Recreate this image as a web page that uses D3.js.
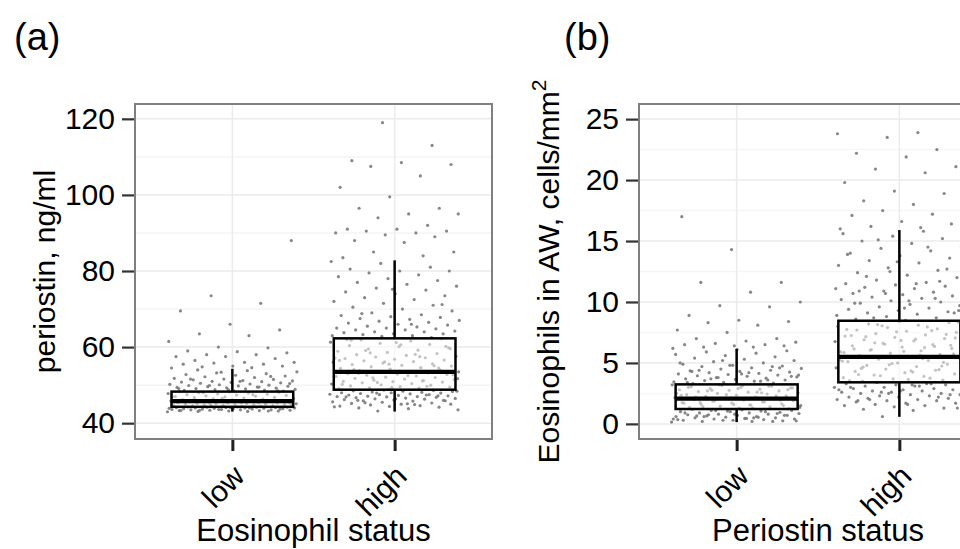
<!DOCTYPE html>
<html>
<head>
<meta charset="utf-8">
<script src="https://cdn.jsdelivr.net/npm/d3@7"></script>
<style>
  body { margin: 0; background: #fff; }
  svg { display: block; font-family: "Liberation Sans", Arial, sans-serif; }
</style>
</head>
<body>
<script>
// Canvas size
var w = 960;
var h = 549;

// Categories on both x axes
var groups = ["low", "high"];

// Panel (a): periostin (ng/ml) by eosinophil status
var periLow = [43.0,43.1,43.1,43.2,43.2,43.3,43.3,43.4,43.4,43.5,43.5,43.5,43.6,43.6,43.7,43.7,43.8,43.8,43.8,43.9,43.9,44.0,44.0,44.0,44.1,44.1,44.1,44.2,44.2,44.2,44.3,44.3,43.2,43.6,43.9,44.0,43.4,43.7,44.1,43.3,
  44.4,44.4,44.5,44.5,44.6,44.6,44.7,44.7,44.8,44.8,44.9,44.9,45.0,45.0,45.1,45.1,45.2,45.2,45.3,45.3,45.4,45.4,45.5,45.5,45.6,45.6,45.7,45.7,45.8,45.8,45.9,46.0,46.1,46.2,46.3,46.4,46.5,46.6,46.7,46.8,46.9,47.0,47.1,47.2,47.3,47.4,47.5,47.6,47.7,47.8,47.9,48.0,48.1,48.2,48.3,44.5,44.8,45.1,45.4,45.7,46.0,46.5,47.0,47.5,48.0,
  48.4,48.5,48.6,48.7,48.8,48.9,49.0,49.1,49.2,49.3,49.4,49.5,49.6,49.7,49.8,49.9,50.0,50.1,50.2,50.3,50.5,50.6,50.7,50.8,50.9,51.0,51.1,51.2,51.4,51.5,51.6,51.8,52.0,52.2,52.4,52.6,52.8,53.0,53.2,53.5,53.8,54.0,48.5,48.8,49.1,49.5,49.9,50.4,51.0,51.6,52.3,53.4,
  54.5,54.6,54.8,55.0,55.0,55.5,55.5,55.8,56.0,56.0,56.5,57.0,57.5,57.5,58.0,58.0,58.5,58.8,59.0,59.8,60.0,61.5,63.0,63.5,64.5,66.0,69.5,71.5,73.5,88.0];
var periHigh = [43.2,43.5,43.8,44.0,44.2,44.4,44.5,44.6,44.8,45.0,45.0,45.2,45.3,45.5,45.6,45.8,45.9,46.0,46.1,46.2,46.3,46.4,46.5,46.6,46.7,46.8,46.9,47.0,47.0,47.1,47.2,47.3,47.4,47.5,47.5,47.6,47.7,47.8,47.9,48.0,48.0,48.1,48.2,48.3,48.4,48.5,48.6,48.7,44.3,44.9,45.4,45.9,46.4,46.9,47.4,47.9,48.4,45.1,46.0,47.2,
  48.9,49.0,49.2,49.3,49.5,49.6,49.8,50.0,50.1,50.3,50.4,50.6,50.8,50.9,51.0,51.2,51.3,51.5,51.6,51.8,52.0,52.1,52.3,52.4,52.6,52.8,52.9,53.0,53.2,53.3,53.5,53.6,53.8,54.0,54.2,54.4,54.6,54.8,55.0,55.2,55.4,55.6,55.8,56.0,56.2,56.4,56.6,56.8,57.0,57.2,57.4,57.6,57.8,58.0,58.3,58.6,58.9,59.2,59.5,59.8,60.1,60.4,60.7,61.0,61.3,61.6,61.9,62.2,
  49.4,50.2,51.1,51.9,52.7,53.4,54.1,55.1,56.1,57.1,58.1,59.1,60.2,61.2,62.0,49.7,50.7,51.7,52.5,53.1,54.5,55.5,56.5,57.5,58.5,59.6,60.6,61.8,
  62.5,62.8,63.0,63.0,63.3,63.5,63.5,63.8,64.0,64.0,64.2,64.5,64.5,64.8,65.0,65.0,65.3,65.5,65.8,66.0,66.3,66.5,66.8,67.0,67.3,67.5,67.8,68.0,68.3,68.5,69.0,69.5,70.0,70.5,71.0,71.5,72.0,72.5,73.0,73.5,74.0,74.5,75.0,75.5,76.0,76.5,77.0,77.5,78.0,78.5,79.0,79.5,80.0,80.0,80.5,81.0,82.0,82.5,66.0,68.8,71.2,75.2,
  83.5,84.0,85.0,85.0,87.5,88.0,89.0,89.5,90.0,90.0,90.5,90.5,91.0,91.0,92.0,94.0,95.0,95.0,96.5,96.5,99.5,102.0,105.0,107.5,108.0,108.5,109.0,113.0,119.0];
// box stats: [whisker low, q1, median, q3, whisker high]
var periBox = [[43.05, 44.3, 45.8, 48.3, 54.3], [43.05, 48.8, 53.5, 62.3, 82.8]];
var periTicks = [40, 60, 80, 100, 120];
var periMinor = [50, 70, 90, 110];

// Panel (b): airway eosinophils (cells/mm2) by periostin status
var eosLow = [0.15,0.2,0.2,0.25,0.3,0.3,0.35,0.4,0.4,0.45,0.5,0.5,0.55,0.6,0.6,0.65,0.7,0.7,0.75,0.8,0.8,0.85,0.9,0.9,0.95,1.0,1.0,1.05,1.1,1.1,1.15,1.2,0.2,0.3,0.4,0.5,0.6,0.7,0.8,0.9,1.0,1.1,0.25,0.45,0.65,0.85,1.05,0.35,0.55,0.75,
  1.25,1.3,1.35,1.4,1.45,1.5,1.55,1.6,1.65,1.7,1.75,1.8,1.85,1.9,1.95,2.0,2.05,2.1,2.15,2.2,2.25,2.3,2.35,2.4,2.45,2.5,2.55,2.6,2.65,2.7,2.75,2.8,2.85,2.9,2.95,3.0,3.05,3.1,3.15,3.2,
  1.3,1.4,1.5,1.6,1.7,1.8,1.9,2.0,2.1,2.2,2.3,2.4,2.5,2.6,2.7,2.8,2.9,3.0,3.1,3.2,1.35,1.55,1.75,1.95,2.15,2.35,2.55,2.75,2.95,3.15,
  3.3,3.35,3.4,3.45,3.5,3.55,3.6,3.65,3.7,3.75,3.8,3.85,3.9,3.95,4.0,4.05,4.1,4.15,4.2,4.25,4.3,4.35,4.4,4.5,4.55,4.6,4.7,4.75,4.8,4.9,5.0,5.1,5.2,5.3,5.4,5.5,5.6,5.7,5.8,5.9,6.0,6.1,3.4,3.6,3.8,4.0,4.2,4.4,4.6,4.8,5.0,3.5,3.7,3.9,4.1,4.3,4.7,5.2,
  6.2,6.3,6.3,6.4,6.4,6.5,6.5,6.6,6.7,6.8,7.0,7.0,7.5,7.7,8.1,8.3,8.4,8.5,8.9,9.6,9.7,10.0,10.8,11.6,11.6,14.3,17.0];
var eosHigh = [0.6,1.0,1.1,1.2,1.3,1.4,1.5,1.5,1.6,1.7,1.7,1.8,1.9,1.9,2.0,2.0,2.1,2.1,2.2,2.2,2.3,2.3,2.4,2.4,2.5,2.5,2.6,2.6,2.7,2.7,2.8,2.8,2.9,2.9,3.0,3.0,3.1,3.1,3.2,3.2,3.3,3.3,3.4,1.3,1.6,1.9,2.2,2.5,2.8,3.1,2.0,2.4,2.7,3.0,3.3,2.6,2.9,3.2,
  3.5,3.6,3.7,3.8,3.9,4.0,4.1,4.2,4.3,4.4,4.5,4.6,4.7,4.8,4.9,5.0,5.1,5.2,5.3,5.4,5.5,5.6,5.7,5.8,5.9,6.0,6.1,6.2,6.3,6.4,6.5,6.6,6.7,6.8,6.9,7.0,7.1,7.2,7.3,7.4,7.5,7.6,7.7,7.8,7.9,8.0,8.1,8.2,8.3,8.4,
  3.55,3.75,3.95,4.15,4.35,4.55,4.75,4.95,5.15,5.35,5.55,5.75,5.95,6.15,6.35,6.55,6.75,6.95,7.15,7.35,7.55,7.75,7.95,8.15,8.35,3.65,4.05,4.45,4.85,5.25,5.65,6.05,6.45,6.85,7.25,7.65,8.05,3.85,4.25,4.65,5.05,5.45,5.85,6.25,6.65,7.05,
  8.5,8.6,8.7,8.8,8.9,9.0,9.1,9.2,9.3,9.4,9.5,9.6,9.7,9.8,9.9,10.0,10.1,10.2,10.3,10.4,10.5,10.6,10.7,10.8,10.9,11.0,11.1,11.2,11.3,11.4,11.5,11.6,11.8,12.0,12.2,12.4,12.6,12.8,13.0,13.2,13.4,13.6,13.8,14.0,14.2,14.4,14.6,14.8,15.0,15.2,15.4,15.6,15.8,8.7,9.1,9.5,9.9,10.3,10.7,11.1,11.5,12.1,12.7,13.3,13.9,14.5,15.1,9.3,10.1,10.9,11.7,12.5,
  16.0,16.1,16.2,16.4,16.6,17.1,17.2,17.5,17.5,18.0,18.3,18.9,19.1,19.8,20.6,20.9,21.1,21.9,22.2,22.5,23.5,23.8,23.9];
var eosBox = [[0.15, 1.22, 2.08, 3.24, 6.15], [0.58, 3.41, 5.49, 8.46, 15.9]];
var eosTicks = [0, 5, 10, 15, 20, 25];
var eosMinor = [2.5, 7.5, 12.5, 17.5, 22.5];

// Create the SVG canvas
var svg = d3.select("body")
  .append("svg")
  .attr("width", w)
  .attr("height", h);

// vertical extent of both panels
var panelTop = 104, panelBottom = 439;

drawPanel({
  left: 135, right: 492,
  domain: [35.84, 123.9],
  series: [periLow, periHigh],
  box: periBox,
  ticks: periTicks,
  minor: periMinor,
  tag: "(a)", tagX: 14,
  xTitle: "Eosinophil status",
  yTitle: "periostin, ng/ml", yTitleX: 55
});

drawPanel({
  left: 639, right: 997,
  domain: [-1.24, 26.24],
  series: [eosLow, eosHigh],
  box: eosBox,
  ticks: eosTicks,
  minor: eosMinor,
  tag: "(b)", tagX: 564,
  xTitle: "Periostin status",
  yTitle: "Eosinophils in AW, cells/mm", yTitleSup: "2", yTitleX: 559
});

function drawPanel(p) {
  var g = svg.append("g");

  // discrete x with ggplot style 0.6 padding
  var x = d3.scalePoint().domain(groups).range([p.left, p.right]).padding(0.6);
  var y = d3.scaleLinear().domain(p.domain).range([panelBottom, panelTop]);
  var step = x.step();

  // grid
  g.selectAll(".minor").data(p.minor).enter().append("line")
    .attr("x1", p.left).attr("x2", p.right)
    .attr("y1", function(d) { return y(d); }).attr("y2", function(d) { return y(d); })
    .attr("stroke", "#f5f5f5").attr("stroke-width", 1.5);
  g.selectAll(".major").data(p.ticks).enter().append("line")
    .attr("x1", p.left).attr("x2", p.right)
    .attr("y1", function(d) { return y(d); }).attr("y2", function(d) { return y(d); })
    .attr("stroke", "#ebebeb").attr("stroke-width", 1.5);
  g.selectAll(".vmajor").data(groups).enter().append("line")
    .attr("x1", function(d) { return x(d); }).attr("x2", function(d) { return x(d); })
    .attr("y1", panelTop).attr("y2", panelBottom)
    .attr("stroke", "#ebebeb").attr("stroke-width", 1.5);

  // jittered points (deterministic spread)
  groups.forEach(function(grp, gi) {
    g.append("g").selectAll("circle")
      .data(p.series[gi])
      .enter()
      .append("circle")
      .attr("cx", function(d, i) {
        var u = (i * 0.6180339887 + gi * 0.37) % 1;
        return x(grp) + (u - 0.5) * 0.8 * step;
      })
      .attr("cy", function(d) { return y(d); })
      .attr("r", 1.6)
      .attr("fill", "#7a7a7a")
      .attr("fill-opacity", 0.9);
  });

  // boxes
  var bw = 0.375 * step;
  groups.forEach(function(grp, gi) {
    var b = p.box[gi];
    var cx = x(grp);
    var bg = g.append("g").attr("stroke", "#000").attr("fill", "none");
    bg.append("line").attr("x1", cx).attr("x2", cx)
      .attr("y1", y(b[3])).attr("y2", y(b[4])).attr("stroke-width", 2.5);
    bg.append("line").attr("x1", cx).attr("x2", cx)
      .attr("y1", y(b[1])).attr("y2", y(b[0])).attr("stroke-width", 2.5);
    bg.append("rect")
      .attr("x", cx - bw).attr("width", 2 * bw)
      .attr("y", y(b[3])).attr("height", y(b[1]) - y(b[3]))
      .attr("fill", "#fff").attr("fill-opacity", 0.5)
      .attr("stroke-width", 2.5);
    bg.append("line").attr("x1", cx - bw).attr("x2", cx + bw)
      .attr("y1", y(b[2])).attr("y2", y(b[2])).attr("stroke-width", 4.3);
  });

  // panel border
  g.append("rect")
    .attr("x", p.left).attr("y", panelTop)
    .attr("width", p.right - p.left).attr("height", panelBottom - panelTop)
    .attr("fill", "none").attr("stroke", "#7f7f7f").attr("stroke-width", 2);

  // y axis
  var yAxis = g.append("g")
    .attr("transform", "translate(" + (p.left - 1) + ",0)")
    .call(d3.axisLeft(y).tickValues(p.ticks).tickSize(12).tickPadding(7));
  yAxis.select(".domain").remove();
  yAxis.selectAll(".tick line").attr("stroke", "#333").attr("stroke-width", 2.2);
  yAxis.selectAll(".tick text").attr("font-size", "30px").attr("fill", "#000")
    .attr("font-family", "Liberation Sans, Arial, sans-serif");

  // x axis
  var xAxis = g.append("g")
    .attr("transform", "translate(0," + (panelBottom + 1) + ")")
    .call(d3.axisBottom(x).tickSize(11).tickFormat(""));
  xAxis.select(".domain").remove();
  xAxis.selectAll(".tick line").attr("stroke", "#222").attr("stroke-width", 3);

  // rotated category labels
  g.selectAll(".xlab").data(groups).enter().append("text")
    .attr("transform", function(d) {
      return "translate(" + (x(d) + 14) + "," + 478 + ") rotate(-45)";
    })
    .attr("text-anchor", "end")
    .attr("font-size", "30px")
    .attr("fill", "#000")
    .text(function(d) { return d; });

  // axis titles
  g.append("text")
    .attr("x", (p.left + p.right) / 2).attr("y", 541)
    .attr("text-anchor", "middle")
    .attr("font-size", "31px")
    .text(p.xTitle);

  var yt = g.append("text")
    .attr("transform", "translate(" + p.yTitleX + "," + ((panelTop + panelBottom) / 2) + ") rotate(-90)")
    .attr("text-anchor", "middle")
    .attr("font-size", "30px")
    .text(p.yTitle);
  if (p.yTitleSup) {
    yt.append("tspan").attr("dy", -13).attr("font-size", "21px").text(p.yTitleSup);
  }

  // panel tag
  g.append("text")
    .attr("x", p.tagX).attr("y", 50)
    .attr("font-size", "38px")
    .text(p.tag);
}
</script>
</body>
</html>
